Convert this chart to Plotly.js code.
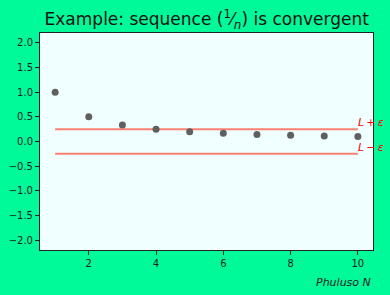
<!DOCTYPE html>
<html><head><meta charset="utf-8">
<script src="https://cdn.plot.ly/plotly-3.0.1.min.js"></script>
<style>html,body{margin:0;padding:0;background:#00FA9A;}#c{width:390px;height:295px;}</style>
</head><body><div id="c"></div>
<script>
const n = [1,2,3,4,5,6,7,8,9,10];
const an = [1.0,0.5,0.3333,0.25,0.2,0.1667,0.1429,0.125,0.1111,0.1];
const L = 0;
const eps = 0.25;
const bandX = [1,10];
const upperLabel = "<i>L</i>\u2009+\u2009<i>ε</i>";
const lowerLabel = "<i>L</i>\u2009−\u2009<i>ε</i>";

const traces = [
  {x: bandX, y: [L+eps, L+eps], mode:'lines', line:{color:'#FA8072', width:2}, hoverinfo:'skip'},
  {x: bandX, y: [L-eps, L-eps], mode:'lines', line:{color:'#FA8072', width:2}, hoverinfo:'skip'},
  {x: n, y: an, mode:'markers', marker:{color:'#606060', size:7}}
];
const layout = {
  width:390, height:295,
  margin:{l:40, r:17, t:33, b:45},
  paper_bgcolor:'#00FA9A', plot_bgcolor:'#F0FFFF',
  showlegend:false,
  font:{family:'DejaVu Sans', size:10, color:'#222'},
  title:{text:'Example: sequence (<sup>1</sup>⁄<sub><i>n</i></sub>) is convergent', font:{size:17, color:'#111'}, x:0.53, xanchor:'center', y:0.955, yanchor:'top'},
  xaxis:{range:[0.55,10.45], tickvals:[2,4,6,8,10], ticks:'outside', ticklen:4, tickcolor:'#222', showgrid:false, zeroline:false, showline:true, linecolor:'#222', linewidth:1, mirror:true},
  yaxis:{range:[-2.2,2.2], tickvals:[-2,-1.5,-1,-0.5,0,0.5,1,1.5,2], ticktext:['−2.0','−1.5','−1.0','−0.5','0.0','0.5','1.0','1.5','2.0'], ticks:'outside', ticklen:4, tickcolor:'#222', showgrid:false, zeroline:false, showline:true, linecolor:'#222', linewidth:1, mirror:true},
  annotations:[
    {x:10, y:L+eps, xref:'x', yref:'y', text:upperLabel, showarrow:false, xanchor:'left', yanchor:'bottom', xshift:-2, yshift:-2, font:{size:11, color:'red'}},
    {x:10, y:L-eps, xref:'x', yref:'y', text:lowerLabel, showarrow:false, xanchor:'left', yanchor:'bottom', xshift:-2, yshift:-2, font:{size:11, color:'red'}},
    {x:1, y:0, xref:'paper', yref:'paper', text:'<i>Phuluso N</i>', showarrow:false, xanchor:'right', yanchor:'middle', yshift:-32, xshift:0, font:{size:11, color:'#222'}}
  ]
};
Plotly.newPlot('c', traces, layout, {displayModeBar:false, staticPlot:true});
</script></body></html>
